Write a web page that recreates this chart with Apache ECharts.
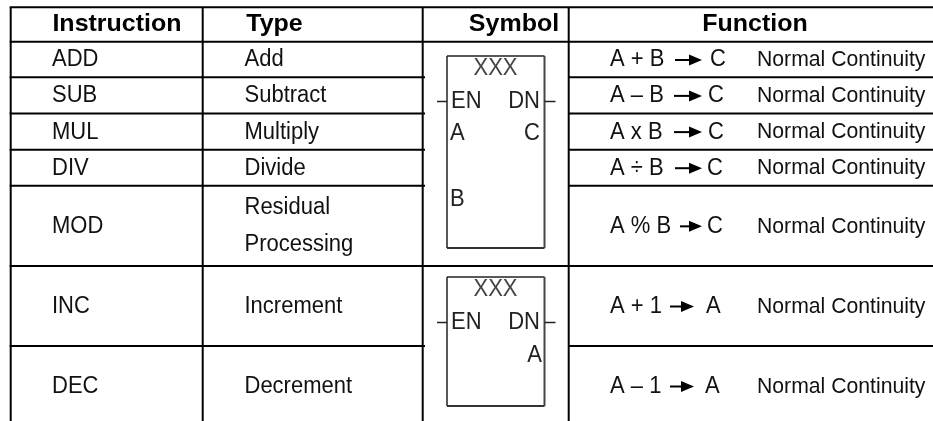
<!DOCTYPE html>
<html>
<head>
<meta charset="utf-8">
<title>Instruction table</title>
<style>
  html, body { margin: 0; padding: 0; background: #fff; }
  #main { width: 933px; height: 421px; }
</style>
<script src="https://cdn.jsdelivr.net/npm/echarts@6/dist/echarts.min.js"></script>
</head>
<body>
<div id="main"></div>
<script>
// table contents
var headers = ['Instruction', 'Type', 'Symbol', 'Function'];
var instructions = ['ADD', 'SUB', 'MUL', 'DIV', 'MOD', 'INC', 'DEC'];
var types = ['Add', 'Subtract', 'Multiply', 'Divide', 'Residual\nProcessing', 'Increment', 'Decrement'];
var formulas = ['A + B', 'A – B', 'A x B', 'A ÷ B', 'A % B', 'A + 1', 'A – 1'];
var results = ['C', 'C', 'C', 'C', 'C', 'A', 'A'];
var continuity = ['Normal Continuity', 'Normal Continuity', 'Normal Continuity', 'Normal Continuity',
  'Normal Continuity', 'Normal Continuity', 'Normal Continuity'];
var symbolTitles = ['XXX', 'XXX'];
var symbolPins = [['EN', 'DN', 'A', 'C', 'B'], ['EN', 'DN', 'A']];

// layout, in the pixel units of the hidden axes
var colLines = [10.7, 202.7, 422.7, 568.7];
var rowLines = [7.3, 41.7, 77.3, 113.5, 149.7, 185.7, 266, 346];
var headerCenters = [117, 274.5, 514, 755];
var arrowFrom = [675, 674, 674, 675, 680, 670, 670];
var arrowTo = [702, 702, 702, 702, 702, 694, 694];
var resultX = [710, 708, 708, 707, 707, 706, 705];

var textColor = '#111';
var pinColor = '#222';
var bodyFont = '22px "Liberation Sans"';
var noteFont = '21.2px "Liberation Sans"';
var headFont = 'bold 25px "Liberation Sans"';

// the source glyphs are a bit taller than the regular face, and the bold a bit flatter
function text(api, x, y, str, font, fill, align) {
  var p = api.coord([x, y]);
  var stretch = font === headFont ? 0.94 : 1.06;
  return {
    type: 'text',
    x: p[0],
    y: p[1],
    scaleY: stretch,
    style: { x: 0, y: 0, text: str, font: font, fill: fill || textColor, align: align || 'left', verticalAlign: 'middle', lineHeight: 35 }
  };
}

function line(api, x1, y1, x2, y2, width, color) {
  var a = api.coord([x1, y1]);
  var b = api.coord([x2, y2]);
  return {
    type: 'line',
    shape: { x1: a[0], y1: a[1], x2: b[0], y2: b[1] },
    style: { stroke: color || '#000', lineWidth: width || 2 }
  };
}

function arrow(api, x1, x2, y) {
  var a = api.coord([x2 - 13, y - 5.5]);
  var b = api.coord([x2, y]);
  var c = api.coord([x2 - 13, y + 5.5]);
  return {
    type: 'group',
    children: [
      line(api, x1, y, x2 - 10, y, 2, '#000'),
      { type: 'polygon', shape: { points: [a, b, c] }, style: { fill: '#000' } }
    ]
  };
}

// one table row per data item
function renderRow(params, api) {
  var i = api.value(0);
  var y = (rowLines[i + 1] + (i + 2 < rowLines.length ? rowLines[i + 2] : 426)) / 2 + 0.5;
  return {
    type: 'group',
    children: [
      text(api, 52, y, instructions[i], bodyFont),
      text(api, 244.5, y, types[i], bodyFont),
      text(api, 610, y, formulas[i], bodyFont),
      arrow(api, arrowFrom[i], arrowTo[i], y),
      text(api, resultX[i], y, results[i], bodyFont),
      text(api, 757, y, continuity[i], noteFont)
    ]
  };
}

function renderHeader(params, api) {
  var i = api.value(0);
  return text(api, headerCenters[i], 24.5, headers[i], headFont, '#000', 'center');
}

function renderRules(params, api) {
  var kids = [];
  colLines.forEach(function (x) {
    kids.push(line(api, x, rowLines[0], x, 421, 2));
  });
  rowLines.forEach(function (y, i) {
    if (i < 2 || y === 266) {
      kids.push(line(api, colLines[0] - 1, y, 933, y, 2));
    } else {
      kids.push(line(api, colLines[0] - 1, y, 425, y, 2));
      kids.push(line(api, colLines[3], y, 933, y, 2));
    }
  });
  return { type: 'group', children: kids };
}

// the two function block drawings
function renderSymbol(params, api) {
  var i = api.value(0);
  var top = i === 0 ? 56 : 277;
  var bottom = i === 0 ? 248 : 406;
  var left = 447, right = 544.5;
  var pinY = top + 45.5;
  var kids = [
    line(api, left, top, right, top, 1.5, '#222'),
    line(api, left, bottom, right, bottom, 2, '#333'),
    line(api, left, top, left, bottom, 1.5, '#222'),
    line(api, right, top, right, bottom, 2, '#444'),
    line(api, 437, pinY, left, pinY, 1.5, '#222'),
    line(api, right, pinY, 555.5, pinY, 1.5, '#222'),
    text(api, 495.5, top + 12.5, symbolTitles[i], bodyFont, '#444', 'center'),
    text(api, 451, pinY, symbolPins[i][0], bodyFont, pinColor),
    text(api, 540, pinY, symbolPins[i][1], bodyFont, pinColor, 'right')
  ];
  if (i === 0) {
    kids.push(text(api, 450, 133.5, symbolPins[i][2], bodyFont, pinColor));
    kids.push(text(api, 540, 133.5, symbolPins[i][3], bodyFont, pinColor, 'right'));
    kids.push(text(api, 450, 199.5, symbolPins[i][4], bodyFont, pinColor));
  } else {
    kids.push(text(api, 542, 355.5, symbolPins[i][2], bodyFont, pinColor, 'right'));
  }
  return { type: 'group', children: kids };
}

function indexData(list) {
  return list.map(function (d, i) { return [i]; });
}

var chart = echarts.init(document.getElementById('main'));
var option = {
  backgroundColor: '#fff',
  animation: false,
  grid: { left: 0, right: 0, top: 0, bottom: 0 },
  xAxis: { type: 'value', min: 0, max: 933, show: false },
  yAxis: { type: 'value', min: 0, max: 421, inverse: true, show: false },
  series: [
    { type: 'custom', silent: true, clip: false, data: [[0]], encode: { x: 0, y: 0 }, renderItem: renderRules },
    { type: 'custom', silent: true, clip: false, data: indexData(headers), encode: { x: 0, y: 0 }, renderItem: renderHeader },
    { type: 'custom', silent: true, clip: false, data: indexData(instructions), encode: { x: 0, y: 0 }, renderItem: renderRow },
    { type: 'custom', silent: true, clip: false, data: indexData(symbolTitles), encode: { x: 0, y: 0 }, renderItem: renderSymbol }
  ]
};
chart.setOption(option);
window.addEventListener('resize', function () {
  chart.resize();
});
</script>
</body>
</html>
